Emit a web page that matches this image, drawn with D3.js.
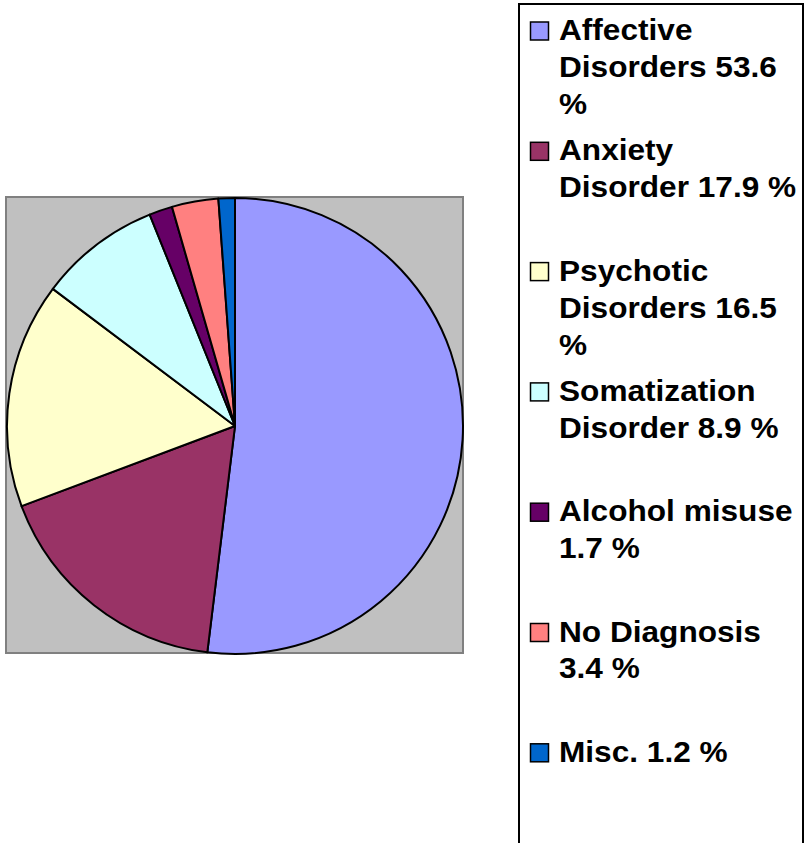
<!DOCTYPE html>
<html>
<head>
<meta charset="utf-8">
<script src="https://cdn.jsdelivr.net/npm/d3@7"></script>
<style>
    body { margin: 0; background: #fff; }
    text { font-family: "Liberation Sans", Arial, sans-serif; font-weight: bold; }
</style>
</head>
<body>
<svg id="canvas" width="806" height="843"></svg>
<script>
// values as printed in the legend (they sum to 103.2, the pie normalizes)
const categories = ['Affective Disorders', 'Anxiety Disorder', 'Psychotic Disorders',
    'Somatization Disorder', 'Alcohol misuse', 'No Diagnosis', 'Misc.'];
const percents = [53.6, 17.9, 16.5, 8.9, 1.7, 3.4, 1.2];
const colors = ['#9999ff', '#993366', '#ffffcc', '#ccffff', '#660066', '#ff8080', '#0066cc'];

const svg = d3.select('#canvas');

const data = categories.map((c, i) => ({name: c, value: percents[i], color: colors[i]}));

// plot area
svg.append('rect')
    .attr('x', 6).attr('y', 197)
    .attr('width', 457).attr('height', 456)
    .attr('fill', '#c0c0c0')
    .attr('stroke', '#808080')
    .attr('stroke-width', 2);

const pie = d3.pie().sort(null).value(d => d.value);
const arc = d3.arc().innerRadius(0).outerRadius(228);

svg.append('g')
    .attr('transform', 'translate(235,426)')
    .selectAll('path')
    .data(pie(data))
    .enter().append('path')
    .attr('d', arc)
    .attr('fill', d => d.data.color)
    .attr('stroke', '#000')
    .attr('stroke-width', 2)
    .attr('stroke-linejoin', 'round');

// legend
svg.append('rect')
    .attr('x', 519).attr('y', 4)
    .attr('width', 284).attr('height', 860)
    .attr('fill', '#fff')
    .attr('stroke', '#000')
    .attr('stroke-width', 2);

const sx = 1.09;
const maxW = 244 / sx;
const lineH = 37;

const items = svg.append('g').selectAll('g')
    .data(data)
    .enter().append('g')
    .attr('transform', (d, i) => 'translate(0,' + (40 + i * 120.3) + ')');

items.append('rect')
    .attr('x', 530.5).attr('y', -18)
    .attr('width', 18).attr('height', 18)
    .attr('fill', d => d.color)
    .attr('stroke', '#000')
    .attr('stroke-width', 1.5);

items.each(function (d) {
    const t = d3.select(this).append('text')
        .attr('transform', 'translate(559,0) scale(' + sx + ',1)')
        .attr('font-size', 29)
        .attr('fill', '#000');
    const words = (d.name + ' ' + d.value.toFixed(1) + ' %').split(' ');
    let line = [];
    let n = 0;
    let ts = t.append('tspan').attr('x', 0).attr('y', 0);
    for (let w of words) {
        line.push(w);
        ts.text(line.join(' '));
        if (ts.node().getComputedTextLength() > maxW && line.length > 1) {
            line.pop();
            ts.text(line.join(' '));
            line = [w];
            n++;
            ts = t.append('tspan').attr('x', 0).attr('y', n * lineH).text(w);
        }
    }
});
</script>
</body>
</html>
